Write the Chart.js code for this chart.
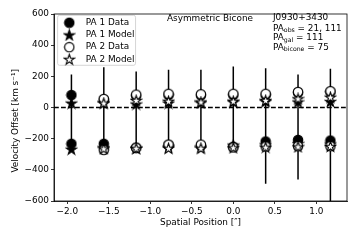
<!DOCTYPE html>
<html><head><meta charset="utf-8">
<script src="https://cdn.jsdelivr.net/npm/chart.js@4/dist/chart.umd.min.js"></script>
<style>html,body{margin:0;padding:0;background:#fff}#wrap{width:360px;height:240px;position:relative}</style>
</head><body><div id="wrap"><canvas id="c"></canvas></div>
<script>
// ---- data ----
const positions = [-1.95, -1.56, -1.17, -0.78, -0.39, 0.0, 0.39, 0.78, 1.17];
const pa1DataBlue  = [80, 50, 75, 80, 78, 80, 80, 95, 100];
const pa1DataRed   = [-233, -233, -258, -240, -245, -252, -218, -208, -212];
const pa1ModelBlue = [28, 30, 22, 28, 30, 35, 38, 35, 38];
const pa1ModelRed  = [-268, -258, -262, -255, -255, -242, -240, -232, -235];
const pa2DataBlue  = [null, 55, 83, 88, 85, 88, 88, 100, 105];
const pa2DataRed   = [null, -272, -258, -238, -238, -256, -250, -248, -248];
const pa2ModelBlue = [null, 28, 45, 40, 35, 40, 45, 56, 66];
const pa2ModelRed  = [null, -265, -262, -262, -262, -258, -255, -252, -250];
const errTop    = [212, 259, 231, 242, 242, 263, 252, 212, 248];
const errBottom = [-233, -233, -258, -238, -238, -250, -490, -462, -700];
const seriesLabels = ['PA 1 Data', 'PA 1 Model', 'PA 2 Data', 'PA 2 Model'];
const xAxisMin = -2.16, xAxisMax = 1.37, xStep = 0.5;
const yAxisMin = -600, yAxisMax = 600, yStep = 200;
const titleText = 'Asymmetric Bicone';
const infoLines = [['J0930+3430', '', ''], ['PA', 'obs', ' = 21, 111'], ['PA', 'gal', ' = 111'], ['PA', 'bicone', ' = 75']];
const xTitle = 'Spatial Position [\u2033]';
const yTitle = 'Velocity Offset [km s\u207B\u00B9]';

const FONT = 'DejaVu Sans';
const FS = 8.9;
Chart.defaults.font.family = FONT;
Chart.defaults.font.size = FS;
Chart.defaults.color = '#000';

function circleImg(fill, d) {
  const s = 12, c = document.createElement('canvas'); c.width = c.height = s;
  const g = c.getContext('2d'); g.beginPath(); g.arc(s/2, s/2, d/2, 0, Math.PI*2);
  g.fillStyle = fill; g.fill(); g.lineWidth = 1.15; g.strokeStyle = '#000'; g.stroke(); return c;
}
function starImg(fill, r) {
  const s = 13, c = document.createElement('canvas'); c.width = c.height = s;
  const g = c.getContext('2d'); g.beginPath();
  for (let k = 0; k < 10; k++) {
    const rr = k % 2 === 0 ? r : r * 0.382;
    const a = -Math.PI/2 + k * Math.PI/5;
    const px = s/2 + rr*Math.cos(a), py = s/2 + 0.4 + rr*Math.sin(a);
    k === 0 ? g.moveTo(px, py) : g.lineTo(px, py);
  }
  g.closePath(); g.fillStyle = fill; g.fill(); g.lineWidth = 1.1; g.lineJoin = 'miter'; g.strokeStyle = '#000'; g.stroke(); return c;
}
const imgs = [circleImg('#000', 9.4), starImg('#000', 5.5), circleImg('#fff', 9.4), starImg('#fff', 5.5)];

function pairs(blue, red) {
  const out = [];
  positions.forEach((x, i) => {
    if (blue[i] !== null) out.push({x, y: blue[i]});
    if (red[i] !== null) out.push({x, y: red[i]});
  });
  return out;
}
const errData = [];
positions.forEach((x, i) => { errData.push({x, y: errTop[i]}, {x, y: errBottom[i]}, {x, y: null}); });
const zeroLine = [{x: xAxisMin, y: 0}, {x: xAxisMax, y: 0}];

const seriesData = [pairs(pa1DataBlue, pa1DataRed), pairs(pa1ModelBlue, pa1ModelRed),
                    pairs(pa2DataBlue, pa2DataRed), pairs(pa2ModelBlue, pa2ModelRed)];
const orders = [3, 2, 1, 0];
const datasets = seriesLabels.map((lab, i) => ({
  label: lab, data: seriesData[i], pointStyle: imgs[i], pointRadius: 5, order: orders[i],
  backgroundColor: i < 2 ? '#000' : '#fff', borderColor: '#000', showLine: false
}));
datasets.push({label: '_err', data: errData, showLine: true, spanGaps: false, borderColor: '#000', borderWidth: 1.5, pointRadius: 0, order: 5});
datasets.push({label: '_zero', data: zeroLine, showLine: true, borderColor: '#000', borderWidth: 1.4, borderDash: [4.8, 2.2], pointRadius: 0, order: 4});

const fmtX = v => { if (Math.abs(v) < 1e-9) v = 0; const s = Math.abs(v).toFixed(1); return v < 0 ? '\u2212' + s : s; };
const fmtY = v => v < 0 ? '\u2212' + Math.abs(v) : String(v);

const deco = {
  id: 'deco',
  afterLayout(chart) {
    const lg = chart.legend, ca = chart.chartArea;
    const w = lg.width, h = lg.height;
    lg.left = ca.left; lg.top = ca.top + 1; lg.right = lg.left + w; lg.bottom = lg.top + h;
  },
  beforeDraw(chart) {
    const g = chart.ctx, hb = chart.legend.legendHitBoxes;
    if (!hb || !hb.length) return;
    const l = hb[0].left + 0.3, t = hb[0].top - 3;
    let r = 0; hb.forEach(b => { r = Math.max(r, b.left + b.width); });
    const last = hb[hb.length - 1]; const b = last.top + last.height + 1.5;
    g.save(); g.beginPath(); g.roundRect(l, t, r + 1 - l, b - t, 2);
    g.fillStyle = 'rgba(255,255,255,0.8)'; g.fill(); g.strokeStyle = '#cccccc'; g.lineWidth = 0.8; g.stroke(); g.restore();
  },
  afterDraw(chart) {
    const g = chart.ctx, ca = chart.chartArea;
    g.save();
    g.strokeStyle = '#000'; g.lineWidth = 0.8;
    g.strokeRect(ca.left, ca.top, ca.right - ca.left, ca.bottom - ca.top);
    g.fillStyle = '#000'; g.textBaseline = 'middle';
    g.font = FS + 'px "' + FONT + '"'; g.textAlign = 'center';
    g.fillText(titleText, 210, 19);
    g.textAlign = 'left';
    const ys = [17.7, 28.3, 38, 47.2];
    infoLines.forEach((ln, i) => {
      let x = 273; g.font = FS + 'px "' + FONT + '"';
      g.fillText(ln[0], x, ys[i]); x += g.measureText(ln[0]).width;
      if (ln[1]) { g.font = '6.2px "' + FONT + '"'; g.fillText(ln[1], x, ys[i] + 2); x += g.measureText(ln[1]).width; }
      g.font = FS + 'px "' + FONT + '"';
      if (ln[2]) g.fillText(ln[2], x, ys[i]);
    });
    g.restore();
  }
};

new Chart(document.getElementById('c'), {
  type: 'scatter',
  data: {datasets},
  options: {
    responsive: true, maintainAspectRatio: false, animation: false, events: [],
    layout: {padding: {top: 14, right: 13, left: 0, bottom: 0}},
    plugins: {
      tooltip: {enabled: false},
      legend: {
        position: 'chartArea', align: 'start',
        labels: {
          usePointStyle: true, pointStyleWidth: 24, padding: 3.3, color: '#000', font: {size: FS},
          filter: it => !it.text.startsWith('_'),
          sort: (a, b) => a.datasetIndex - b.datasetIndex
        }
      }
    },
    scales: {
      x: {
        type: 'linear', min: xAxisMin, max: xAxisMax,
        ticks: {stepSize: xStep, includeBounds: false, autoSkip: false, maxRotation: 0, color: '#000', padding: 2, callback: fmtX},
        grid: {display: true, drawOnChartArea: false, drawTicks: true, tickLength: 3, color: '#000', tickWidth: 0.8},
        border: {display: true, color: '#000', width: 0.8},
        title: {display: true, text: xTitle, color: '#000', padding: {top: 0, bottom: 12}},
        afterFit: s => { s.height = 39; }
      },
      y: {
        min: yAxisMin, max: yAxisMax,
        ticks: {stepSize: yStep, color: '#000', padding: 2, callback: fmtY},
        grid: {display: true, drawOnChartArea: false, drawTicks: true, tickLength: 3, color: '#000', tickWidth: 0.8},
        border: {display: true, color: '#000', width: 0.8},
        title: {display: true, text: yTitle + '\u2003\u2003\u2003', color: '#000', padding: {top: 10, bottom: 0}},
        afterFit: s => { s.width = 54; }
      }
    }
  },
  plugins: [deco]
});
</script></body></html>
